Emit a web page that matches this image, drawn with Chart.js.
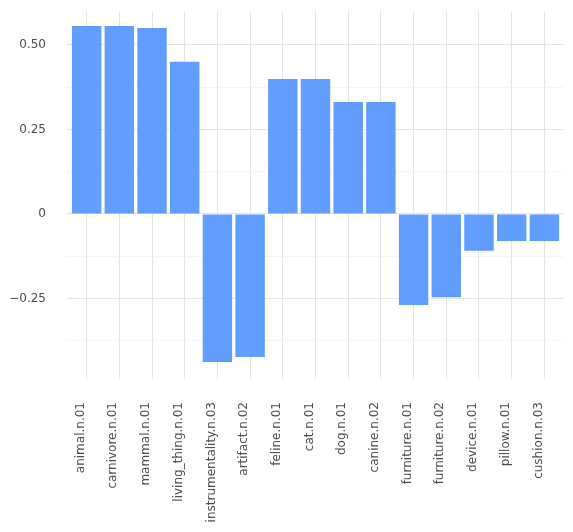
<!DOCTYPE html>
<html>
<head>
<meta charset="utf-8">
<script src="https://cdn.jsdelivr.net/npm/chart.js@4"></script>
<style>
  html, body { margin: 0; padding: 0; background: #fff; }
  #wrap { width: 573px; height: 532px; }
</style>
</head>
<body>
<div id="wrap"><canvas id="chart"></canvas></div>
<script>
const labels = ['animal.n.01', 'carnivore.n.01', 'mammal.n.01', 'living_thing.n.01',
  'instrumentality.n.03', 'artifact.n.02', 'feline.n.01', 'cat.n.01', 'dog.n.01',
  'canine.n.02', 'furniture.n.01', 'furniture.n.02', 'device.n.01', 'pillow.n.01', 'cushion.n.03'];
const values = [0.556, 0.556, 0.550, 0.450, -0.438, -0.423, 0.399, 0.399, 0.331,
  0.331, -0.269, -0.246, -0.109, -0.080, -0.080];
const majorTicks = [-0.25, 0, 0.25, 0.5];
const minorTicks = [-0.375, -0.125, 0.125, 0.375];

const fmt = v => v === 0 ? '0' : (v < 0 ? '\u2212' : '') + Math.abs(v).toFixed(2);
const isMajor = v => majorTicks.some(m => Math.abs(m - v) < 1e-9);
const noPad = s => {
  s.paddingTop = 0; s.paddingBottom = 0; s.paddingLeft = 0; s.paddingRight = 0;
};

new Chart(document.getElementById('chart'), {
  type: 'bar',
  data: {
    datasets: [{
      data: values.map((v, i) => ({ x: i, y: v })),
      backgroundColor: '#619CFF',
      borderWidth: 0,
      barPercentage: 0.9,
      categoryPercentage: 1.0
    }]
  },
  options: {
    responsive: true,
    maintainAspectRatio: false,
    animation: false,
    layout: { padding: { top: 11, right: 9, left: 0, bottom: 0 } },
    plugins: { legend: { display: false }, tooltip: { enabled: false } },
    scales: {
      x: {
        type: 'linear',
        offset: false,
        min: -0.6,
        max: labels.length - 1 + 0.6,
        afterFit: s => { s.height = 153; noPad(s); },
        afterBuildTicks: s => { s.ticks = labels.map((l, i) => ({ value: i })); },
        grid: { offset: false, color: '#e4e4e4', lineWidth: 1, drawTicks: false },
        border: { display: false },
        ticks: {
          color: '#4d4d4d',
          font: { family: 'DejaVu Sans', size: 12 },
          minRotation: 90,
          maxRotation: 90,
          autoSkip: false,
          padding: 23,
          labelOffset: -6,
          callback: v => labels[v]
        }
      },
      y: {
        min: -0.488,
        max: 0.60,
        afterFit: s => { s.width = 67; noPad(s); },
        afterBuildTicks: s => {
          s.ticks = majorTicks.concat(minorTicks).sort((a, b) => a - b).map(v => ({ value: v }));
        },
        grid: {
          drawTicks: false,
          color: c => isMajor(c.tick.value) ? '#e4e4e4' : '#f5f5f5',
          lineWidth: 1
        },
        border: { display: false },
        ticks: {
          color: '#4d4d4d',
          font: { family: 'DejaVu Sans', size: 12 },
          padding: 21,
          callback: v => isMajor(v) ? fmt(v) : ''
        }
      }
    }
  }
});
</script>
</body>
</html>
